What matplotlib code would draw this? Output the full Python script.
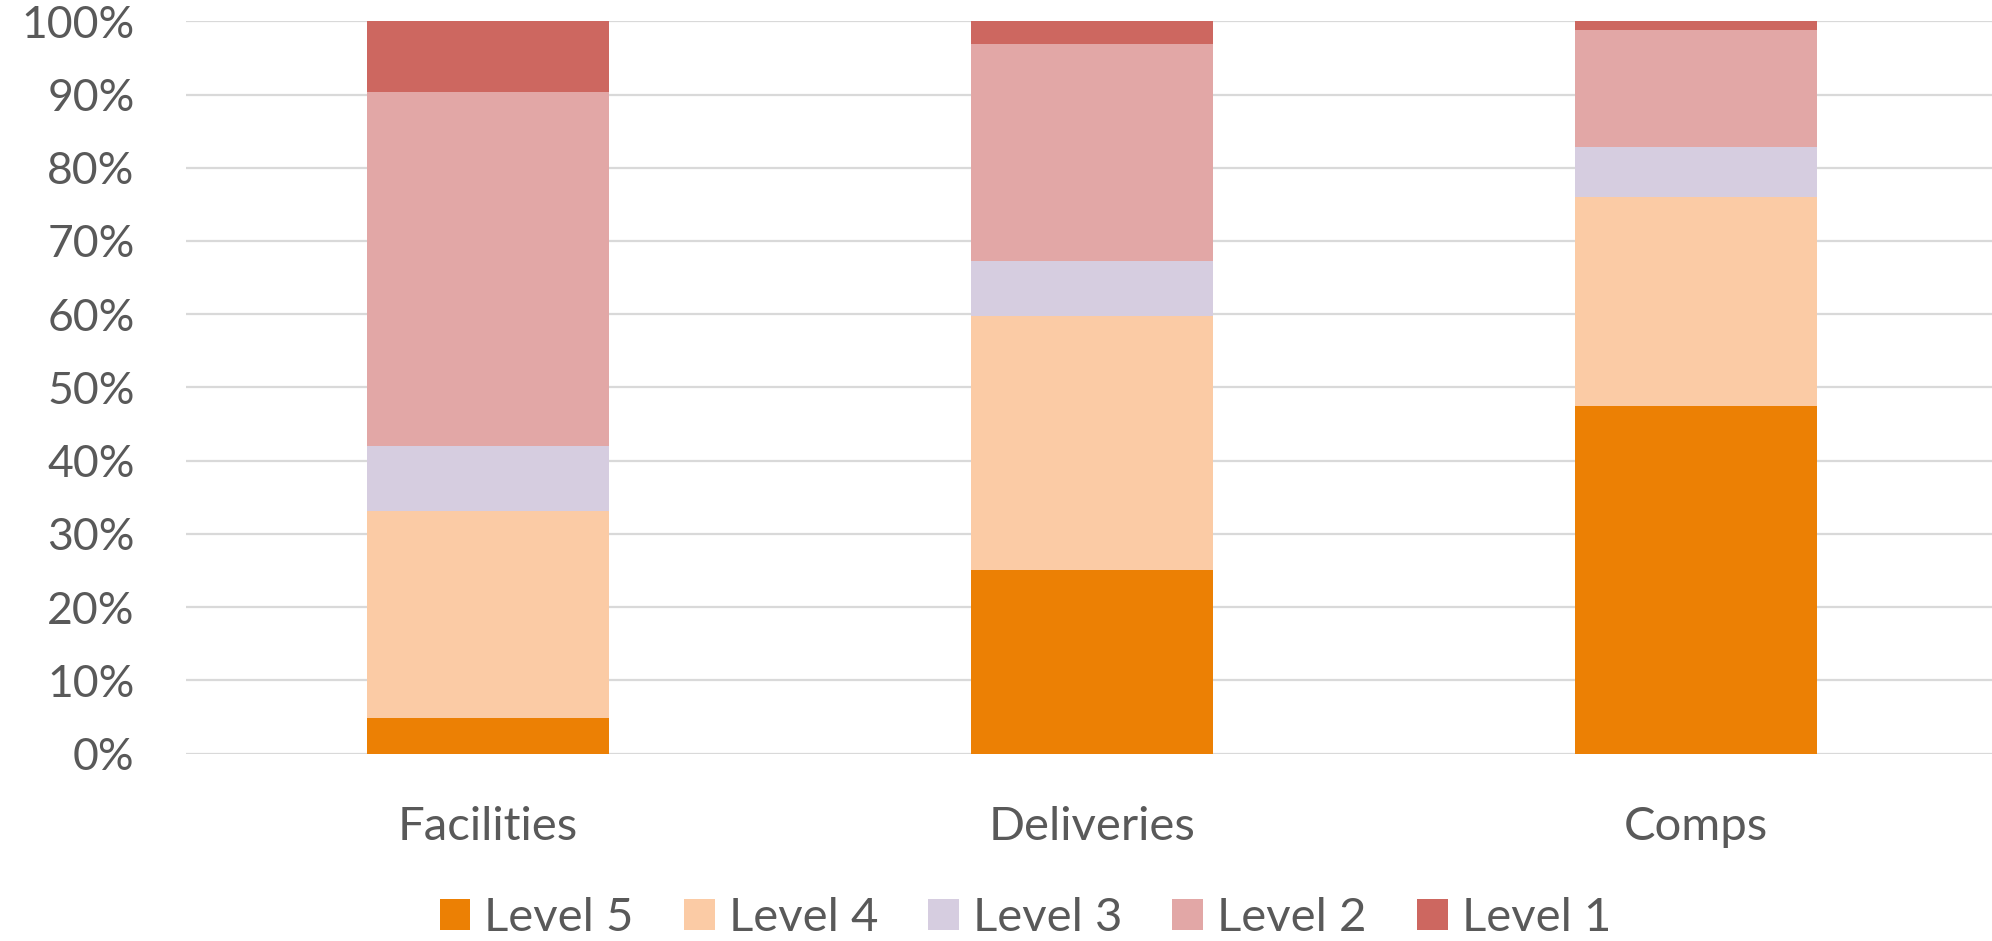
import matplotlib
matplotlib.use("Agg")
import matplotlib.pyplot as plt
from matplotlib.patches import Patch
from matplotlib.ticker import PercentFormatter

plt.rcParams['font.family'] = ['Lato', 'DejaVu Sans']

categories = ["Facilities", "Deliveries", "Comps"]
levels = ["Level 5", "Level 4", "Level 3", "Level 2", "Level 1"]
level5 = [4.9, 25.1, 47.5]
level4 = [28.2, 34.7, 28.5]
level3 = [8.9, 7.4, 6.8]
level2 = [48.3, 29.7, 16.0]
level1 = [9.7, 3.1, 1.2]
series = [level5, level4, level3, level2, level1]
colors = ["#EC8004", "#FBCBA5", "#D6CDE0", "#E2A7A6", "#CD6760"]

TEXT = "#595959"
W, H = 1992, 941
fig = plt.figure(figsize=(W / 100, H / 100), dpi=100)
ax = fig.add_axes([186 / W, (H - 753.5) / H, 1812 / W, (753.5 - 21.3) / H])

x = range(len(categories))
bottom = [0.0] * len(categories)
for vals, col, name in zip(series, colors, levels):
    ax.bar(x, vals, bottom=bottom, width=0.4, color=col, label=name, zorder=2)
    bottom = [b + v for b, v in zip(bottom, vals)]

ax.set_xlim(-0.5, 2.5)
ax.set_ylim(0, 100)
ax.set_yticks(range(0, 101, 10))
ax.yaxis.set_major_formatter(PercentFormatter(decimals=0))
ax.grid(axis="y", color="#D9D9D9", linewidth=1.6, zorder=0)
ax.set_axisbelow(True)
for s in ax.spines.values():
    s.set_visible(False)
ax.tick_params(axis="both", length=0, labelcolor=TEXT)
ax.tick_params(axis="y", pad=37, labelsize=32)
ax.tick_params(axis="x", pad=38, labelsize=34)
ax.set_xticks(list(x))
ax.set_xticklabels(categories)

handles = [Patch(facecolor=c, label=l) for c, l in zip(colors, levels)]
fig.legend(handles=handles, loc="center", bbox_to_anchor=(0.5147, (H - 918) / H),
           ncol=5, frameon=False, fontsize=34, labelcolor=TEXT,
           handlelength=0.65, handleheight=0.65, handletextpad=0.3,
           columnspacing=1.06)

fig.savefig("out.png", dpi=100, facecolor="white")
